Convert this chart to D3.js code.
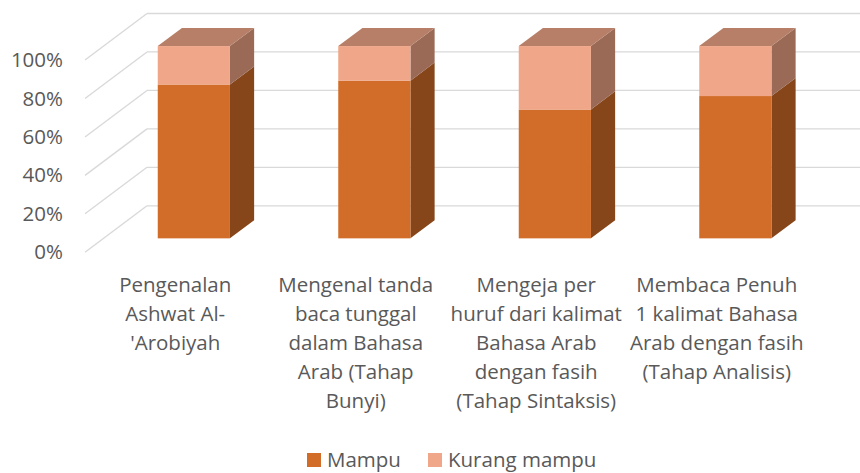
<!DOCTYPE html>
<html>
<head>
<meta charset="utf-8">
<script src="https://cdn.jsdelivr.net/npm/d3@7"></script>
<style>
  body { margin: 0; background: #fff; }
  svg { display: block; font-family: "Open Sans", sans-serif; }
  .tick text, .cat, .legend text { fill: #595959; }
</style>
</head>
<body>
<div id="chart"></div>
<script>
// data
var categories = ["c1", "c2", "c3", "c4"];
var categoryLines = [
  ["Pengenalan", "Ashwat Al-", "'Arobiyah"],
  ["Mengenal tanda", "baca tunggal", "dalam Bahasa", "Arab (Tahap", "Bunyi)"],
  ["Mengeja per", "huruf dari kalimat", "Bahasa Arab", "dengan fasih", "(Tahap Sintaksis)"],
  ["Membaca Penuh", "1 kalimat Bahasa", "Arab dengan fasih", "(Tahap Analisis)"]
];
var seriesNames = ["Mampu", "Kurang mampu"];
var mampu = [0.80, 0.82, 0.67, 0.74];
var kurangMampu = [0.20, 0.18, 0.33, 0.26];
var yTicks = [0, 0.2, 0.4, 0.6, 0.8, 1.0];

var width = 860, height = 473;
var fontSize = 20.5;

// 3d setup: front plane + depth offset
var DX = 62, DY = -46.5;
var d0 = 0.3, d1 = 0.69;

var colors = {
  Mampu: {front: "#d26d29", side: "#86461a", top: "#a85a25"},
  "Kurang mampu": {front: "#f0a688", side: "#9a6a57", top: "#b77f67"}
};

var svg = d3.select("#chart").append("svg")
  .attr("width", width)
  .attr("height", height);

var x = d3.scaleBand()
  .domain(categories)
  .range([85, 807])
  .paddingInner(0.6)
  .paddingOuter(0.3);

var y = d3.scaleLinear()
  .domain([0, 1])
  .range([252.3, 60]);

function proj(xf, v, d) {
  return [xf + d * DX, y(v) + d * DY];
}

// gridlines: back wall + side wall
var grid = svg.append("g").attr("class", "grid");
grid.selectAll("line.back")
  .data(yTicks)
  .enter().append("line")
  .attr("class", "back")
  .attr("x1", proj(85, 0, 1)[0])
  .attr("x2", width)
  .attr("y1", function(d) { return proj(85, d, 1)[1]; })
  .attr("y2", function(d) { return proj(85, d, 1)[1]; })
  .attr("stroke", "#d9d9d9")
  .attr("stroke-width", 1.3);

grid.selectAll("line.side")
  .data(yTicks)
  .enter().append("line")
  .attr("class", "side")
  .attr("x1", 85)
  .attr("y1", function(d) { return y(d); })
  .attr("x2", proj(85, 0, 1)[0])
  .attr("y2", function(d) { return proj(85, d, 1)[1]; })
  .attr("stroke", "#d9d9d9")
  .attr("stroke-width", 1.3);

// y axis labels
svg.append("g")
  .attr("transform", "translate(85,0)")
  .call(d3.axisLeft(y).tickValues(yTicks).tickSize(0).tickPadding(22).tickFormat(d3.format(".0%")))
  .call(function(g) { g.select(".domain").remove(); })
  .selectAll("text")
  .attr("font-size", fontSize)
  .attr("font-family", "Open Sans, sans-serif");

// stacked segments
var segments = [];
categories.forEach(function(c, i) {
  segments.push({cat: c, name: "Mampu", lo: 0, hi: mampu[i], isTop: false});
  segments.push({cat: c, name: "Kurang mampu", lo: mampu[i], hi: mampu[i] + kurangMampu[i], isTop: true});
});

var bars = svg.append("g").attr("class", "bars");
var bw = x.bandwidth();

function pts(arr) { return arr.map(function(p) { return p.join(","); }).join(" "); }

var seg = bars.selectAll("g.seg")
  .data(segments)
  .enter().append("g")
  .attr("class", "seg");

// side face
seg.append("polygon")
  .attr("points", function(d) {
    var xr = x(d.cat) + bw;
    return pts([proj(xr, d.lo, d0), proj(xr, d.lo, d1), proj(xr, d.hi, d1), proj(xr, d.hi, d0)]);
  })
  .attr("fill", function(d) { return colors[d.name].side; });

// top face
seg.filter(function(d) { return d.isTop; })
  .append("polygon")
  .attr("points", function(d) {
    var xl = x(d.cat), xr = xl + bw;
    return pts([proj(xl, d.hi, d0), proj(xr, d.hi, d0), proj(xr, d.hi, d1), proj(xl, d.hi, d1)]);
  })
  .attr("fill", function(d) { return colors[d.name].top; });

// front face
seg.append("rect")
  .attr("x", function(d) { return proj(x(d.cat), d.hi, d0)[0]; })
  .attr("y", function(d) { return proj(x(d.cat), d.hi, d0)[1]; })
  .attr("width", bw)
  .attr("height", function(d) { return y(d.lo) - y(d.hi); })
  .attr("fill", function(d) { return colors[d.name].front; });

// category labels
svg.append("g").selectAll("text")
  .data(categories)
  .enter().append("text")
  .attr("class", "cat")
  .attr("text-anchor", "middle")
  .attr("font-size", fontSize)
  .attr("x", function(d) { return x(d) + bw / 2; })
  .attr("y", 291.5)
  .each(function(d, i) {
    var t = d3.select(this);
    categoryLines[i].forEach(function(line, j) {
      t.append("tspan")
        .attr("x", x(d) + bw / 2)
        .attr("dy", j === 0 ? 0 : 29)
        .text(line);
    });
  });

// legend
var legendX = [307, 428];
var legend = svg.append("g").attr("class", "legend")
  .selectAll("g")
  .data(seriesNames)
  .enter().append("g")
  .attr("transform", function(d, i) { return "translate(" + legendX[i] + ",453)"; });

legend.append("rect")
  .attr("width", 14)
  .attr("height", 14)
  .attr("fill", function(d) { return colors[d].front; });

legend.append("text")
  .attr("x", 20)
  .attr("y", 13.5)
  .attr("font-size", fontSize)
  .text(function(d) { return d; });
</script>
</body>
</html>
